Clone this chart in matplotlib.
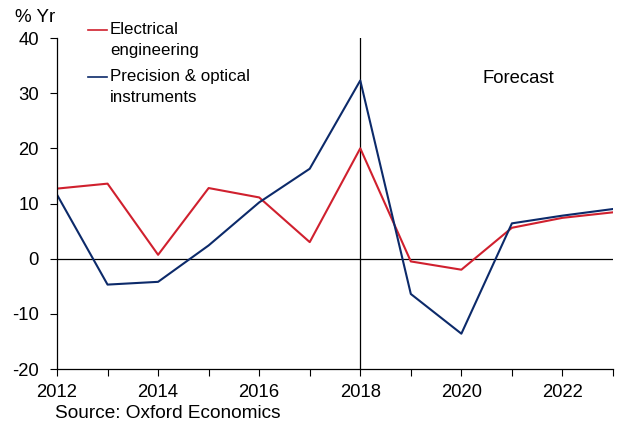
import matplotlib
matplotlib.use("Agg")
import matplotlib.pyplot as plt
from matplotlib.lines import Line2D

plt.rcParams['font.family'] = ['Liberation Sans', 'DejaVu Sans']
plt.rcParams['axes.unicode_minus'] = False

years = list(range(2012, 2024))
electrical = [12.7, 13.6, 0.7, 12.8, 11.1, 3.0, 20.0, -0.5, -2.0, 5.6, 7.4, 8.4]
precision = [11.6, -4.7, -4.2, 2.4, 10.2, 16.3, 32.3, -6.4, -13.6, 6.4, 7.8, 9.0]
major_years = [2012, 2014, 2016, 2018, 2020, 2022]
y_ticks = [-20, -10, 0, 10, 20, 30, 40]

red = '#D0202E'
navy = '#0C2A6A'

W, H = 621, 430
fig = plt.figure(figsize=(W / 100, H / 100), dpi=100)
ax = fig.add_axes([57 / W, 1 - 369 / H, (613 - 57) / W, (369 - 38) / H])

ax.plot(years, electrical, color=red, lw=1.5)
ax.plot(years, precision, color=navy, lw=1.5)
ax.axhline(0, color='black', lw=0.9, zorder=1)
ax.axvline(2018, color='black', lw=0.9, zorder=1)

ax.set_xlim(2012, 2023)
ax.set_ylim(-20, 40)
ax.set_xticks(major_years)
ax.set_xticks(years, minor=True)
ax.set_yticks(y_ticks)
ax.tick_params(axis='both', which='both', direction='out', length=5, width=0.8, labelsize=13.3)
ax.tick_params(axis='x', which='major', pad=5.5)
ax.tick_params(axis='y', which='major', pad=8)
for s in ['top', 'right']:
    ax.spines[s].set_visible(False)
for s in ['left', 'bottom']:
    ax.spines[s].set_linewidth(0.9)

fig.text(15 / W, 1 - 18 / H, '% Yr', fontsize=13.5, va='center', ha='left')
ax.text((518 - 57) / (613 - 57), (369 - 78) / (369 - 38), 'Forecast', transform=ax.transAxes,
        fontsize=13.3, ha='center', va='center')

# legend
fig.add_artist(Line2D([88 / W, 107 / W], [1 - 30 / H, 1 - 30 / H], color=red, lw=1.2))
fig.text(110 / W, 1 - 30 / H, 'Electrical', fontsize=12.2, va='center', ha='left')
fig.text(110 / W, 1 - 50 / H, 'engineering', fontsize=12.2, va='center', ha='left')
fig.add_artist(Line2D([88 / W, 107 / W], [1 - 77 / H, 1 - 77 / H], color=navy, lw=1.2))
fig.text(110 / W, 1 - 77 / H, 'Precision & optical', fontsize=12.2, va='center', ha='left')
fig.text(110 / W, 1 - 97 / H, 'instruments', fontsize=12.2, va='center', ha='left')

fig.text(55 / W, 1 - 413 / H, 'Source: Oxford Economics', fontsize=13.7, va='center', ha='left')

fig.savefig('out.png', dpi=100)
